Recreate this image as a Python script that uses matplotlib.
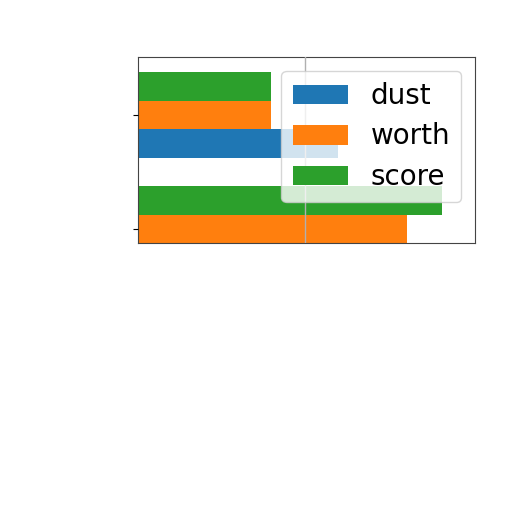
import matplotlib
matplotlib.use("Agg")
import matplotlib.pyplot as plt
import numpy as np

categories = ["a", "b"]
dust = [1.0, 1.20]
worth = [1.61, 0.80]
score = [1.82, 0.80]

y = np.arange(len(categories))
h = 0.25

fig = plt.figure(figsize=(5.12, 5.12), dpi=100)
ax = fig.add_axes([138/512, 1 - 243/512, 337/512, 186/512])

ax.barh(y - h, dust, height=h, color="#1f77b4", label="dust", zorder=1)
ax.barh(y, worth, height=h, color="#ff7f0e", label="worth", zorder=1)
ax.barh(y + h, score, height=h, color="#2ca02c", label="score", zorder=1)

ax.set_ylim(-0.125, 1.51)
ax.set_xlim(0, 2.02)
ax.set_yticks(y)
ax.set_yticklabels([])
ax.set_xticks([1])
ax.set_xticklabels([])
ax.tick_params(axis="x", length=0)
ax.grid(axis="x", color="#b0b0b0", linewidth=1, zorder=2)
ax.set_axisbelow(False)
for s in ax.spines.values():
    s.set_color("#444444")

ax.legend(loc="upper right", fontsize=20, labelspacing=0.45)

fig.savefig("out.png", dpi=100)
